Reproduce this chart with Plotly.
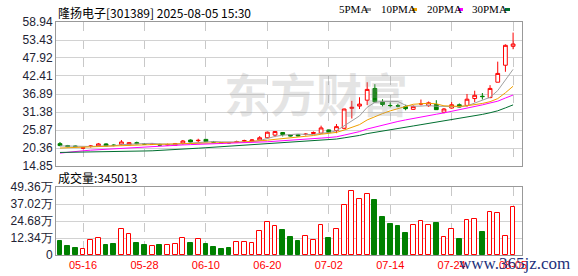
import plotly.graph_objects as go

# ---------------- data ----------------
dates = ["05-13", "05-14", "05-15", "05-16", "05-19", "05-20", "05-21", "05-22", "05-23", "05-26",
         "05-27", "05-28", "05-29", "05-30", "06-03", "06-04", "06-05", "06-06", "06-09", "06-10",
         "06-11", "06-12", "06-13", "06-16", "06-17", "06-18", "06-19", "06-20", "06-23", "06-24",
         "06-25", "06-26", "06-27", "06-30", "07-01", "07-02", "07-03", "07-04", "07-07", "07-08",
         "07-09", "07-10", "07-11", "07-14", "07-15", "07-16", "07-17", "07-18", "07-21", "07-22",
         "07-23", "07-24", "07-25", "07-28", "07-29", "07-30", "07-31", "08-01", "08-04", "08-05"]

open_ = [21.7, 21.1, 20.95, 20.3, 20.85, 21.0, 21.6, 21.25, 21.4, 21.3,
         22.0, 21.65, 21.45, 21.45, 21.3, 21.2, 21.8, 22.8, 22.6, 23.0,
         22.3, 22.0, 22.05, 22.2, 22.5, 22.5, 22.8, 23.5, 24.3, 25.1,
         24.4, 24.4, 24.5, 24.8, 24.9, 25.9, 25.7, 26.4, 32.5, 33.2,
         35.0, 38.6, 34.5, 33.4, 33.3, 33.0, 32.2, 33.85, 33.3, 33.7,
         31.3, 32.6, 33.6, 33.4, 35.5, 36.2, 35.8, 40.5, 45.7, 51.5]
high = [22.2, 21.3, 21.1, 20.5, 21.2, 21.9, 21.8, 21.5, 22.8, 22.2,
        22.3, 21.9, 21.8, 21.7, 21.7, 21.9, 22.8, 23.0, 23.2, 23.1,
        22.4, 22.1, 22.1, 22.6, 22.9, 23.1, 24.0, 25.3, 25.5, 25.2,
        24.5, 24.6, 24.9, 25.4, 27.2, 26.0, 27.7, 32.4, 34.8, 35.9,
        40.5, 39.9, 35.3, 34.3, 33.9, 33.6, 33.4, 35.2, 34.6, 35.0,
        32.6, 34.4, 34.0, 36.9, 37.9, 37.2, 39.6, 46.8, 52.1, 55.7]
low = [20.9, 20.6, 20.7, 20.0, 20.5, 20.9, 20.9, 20.9, 21.2, 21.2,
       21.5, 21.4, 21.3, 21.1, 21.1, 21.1, 21.4, 22.1, 22.1, 22.2,
       22.0, 21.8, 21.7, 21.9, 22.2, 22.4, 22.7, 23.4, 23.7, 23.9,
       23.9, 23.9, 24.2, 24.6, 24.7, 25.0, 24.9, 26.1, 29.4, 32.3,
       33.5, 34.2, 33.1, 32.8, 32.8, 31.9, 32.0, 33.4, 33.0, 32.0,
       31.0, 32.4, 32.8, 33.0, 34.4, 35.2, 35.6, 40.5, 43.7, 50.6]
close = [21.1, 20.8, 20.85, 20.45, 20.95, 21.6, 21.0, 21.15, 22.2, 22.0,
         21.7, 21.55, 21.55, 21.25, 21.4, 21.7, 22.5, 22.2, 22.7, 22.3,
         22.15, 21.9, 21.95, 22.3, 22.6, 22.8, 23.5, 25.2, 25.4, 24.5,
         24.05, 24.1, 24.6, 25.1, 26.5, 25.1, 26.9, 32.3, 32.8, 33.8,
         38.3, 34.5, 33.7, 33.35, 33.2, 32.4, 33.1, 33.9, 34.2, 32.1,
         32.3, 33.6, 32.9, 35.3, 36.5, 36.1, 38.6, 43.2, 51.8, 52.2]

ma5 = [21.0, 20.95, 20.9, 20.8, 20.83, 20.93, 20.97, 21.03, 21.38, 21.59,
       21.61, 21.72, 21.79, 21.6, 21.48, 21.48, 21.67, 21.81, 22.1, 22.28,
       22.37, 22.25, 22.2, 22.12, 22.18, 22.31, 22.63, 23.28, 23.9, 24.28,
       24.53, 24.65, 24.53, 24.47, 24.87, 25.08, 25.64, 27.18, 28.72, 30.18,
       32.82, 34.34, 34.62, 34.73, 34.61, 33.43, 33.15, 33.19, 33.36, 33.14,
       33.12, 33.22, 33.02, 33.24, 34.12, 34.88, 35.88, 37.94, 41.3, 44.44]
ma10 = [20.35, 20.4, 20.5, 20.55, 20.65, 20.8, 20.9, 20.95, 21.1, 21.21,
        21.27, 21.35, 21.41, 21.49, 21.54, 21.55, 21.7, 21.8, 21.85, 21.88,
        21.93, 21.96, 22.01, 22.11, 22.23, 22.34, 22.44, 22.74, 23.01, 23.23,
        23.42, 23.64, 23.9, 24.18, 24.57, 24.8, 25.14, 25.85, 26.59, 27.52,
        28.95, 29.99, 30.9, 31.73, 32.4, 33.13, 33.75, 33.91, 34.05, 33.88,
        33.28, 33.19, 33.11, 33.3, 33.63, 34.0, 34.55, 35.48, 37.27, 39.28]
ma20 = [18.8, 19.1, 19.4, 19.5, 19.7, 19.85, 20.0, 20.15, 20.3, 20.45,
        20.6, 20.75, 20.9, 21.0, 21.1, 21.2, 21.3, 21.4, 21.48, 21.55,
        21.6, 21.65, 21.71, 21.8, 21.88, 21.94, 22.07, 22.27, 22.43, 22.56,
        22.67, 22.8, 22.95, 23.15, 23.4, 23.57, 23.79, 24.3, 24.8, 25.38,
        26.18, 26.81, 27.4, 27.95, 28.48, 28.96, 29.44, 29.88, 30.32, 30.7,
        31.11, 31.59, 32.0, 32.51, 33.01, 33.56, 34.15, 34.69, 35.66, 36.58]
ma30 = [19.0, 19.02, 19.05, 19.08, 19.1, 19.15, 19.2, 19.25, 19.3, 19.35,
        19.4, 19.45, 19.5, 19.6, 19.7, 19.8, 19.95, 20.1, 20.3, 20.45,
        20.6, 20.75, 20.9, 21.05, 21.2, 21.35, 21.5, 21.7, 21.9, 22.11,
        22.21, 22.32, 22.44, 22.6, 22.78, 22.9, 23.1, 23.47, 23.82, 24.21,
        24.77, 25.2, 25.61, 26.01, 26.4, 26.76, 27.11, 27.5, 27.89, 28.21,
        28.55, 28.94, 29.31, 29.74, 30.2, 30.65, 31.15, 31.75, 32.64, 33.56]

volume_wan = [10.2, 6.5, 5.1, 4.1, 10.6, 12.1, 7.3, 8.0, 18.6, 15.0,
              8.7, 7.3, 6.3, 7.3, 7.0, 7.8, 12.3, 8.7, 11.4, 8.0,
              5.8, 4.4, 5.1, 9.2, 9.2, 8.5, 17.2, 23.7, 20.8, 18.1,
              13.1, 10.2, 13.8, 10.6, 21.5, 12.3, 18.9, 36.3, 46.5, 40.7,
              44.0, 40.2, 27.6, 22.5, 21.1, 16.0, 21.5, 24.4, 21.5, 23.2,
              13.1, 18.9, 11.6, 25.2, 26.1, 16.7, 31.0, 30.3, 13.8, 34.5]

price_ticks = [14.85, 20.36, 25.87, 31.38, 36.89, 42.41, 47.92, 53.43, 58.94]
price_tick_text = ["14.85", "20.36", "25.87", "31.38", "36.89", "42.41", "47.92", "53.43", "58.94"]
vol_ticks = [0, 12.34, 24.68, 37.02, 49.36]
vol_tick_text = ["0", "12.34万", "24.68万", "37.02万", "49.36万"]
date_ticks = ["05-16", "05-28", "06-10", "06-20", "07-02", "07-14", "07-24", "08-05"]

title_text = "隆扬电子[301389] 2025-08-05 15:30"
vol_title = "成交量:345013"
ma_names = ["5PMA", "10PMA", "20PMA", "30PMA"]
ma_colors = ["#a0a0a0", "#f0a000", "#ff00ff", "#006f30"]

# ---------------- styling ----------------
W, H = 578, 276
L, R, T, B = 56, 522, 22, 255
RED = "#ff0000"
GREEN = "#008000"


def px_x(p):
    return (p - L) / (R - L)


def px_y(p):
    return (B - p) / (B - T)


xs = list(range(len(dates)))
tick_pos = [dates.index(d) for d in date_ticks]

up = [c >= o for o, c in zip(open_, close)]
bar_fill = ["#ffffff" if u else GREEN for u in up]
bar_line = [RED if u else GREEN for u in up]

fig = go.Figure()

for name, vals, col in zip(ma_names, [ma5, ma10, ma20, ma30], ma_colors):
    fig.add_trace(go.Scatter(x=xs, y=vals, mode="lines", name=name,
                             line=dict(color=col, width=1), xaxis="x", yaxis="y",
                             hoverinfo="skip"))

fig.add_trace(go.Candlestick(
    x=xs, open=open_, high=high, low=low, close=close,
    increasing=dict(line=dict(color=RED, width=1), fillcolor="#ffffff"),
    decreasing=dict(line=dict(color=GREEN, width=1), fillcolor=GREEN),
    whiskerwidth=0, xaxis="x", yaxis="y", name="K"))

fig.add_trace(go.Bar(x=xs, y=volume_wan, width=0.62,
                     marker=dict(color=bar_fill, line=dict(color=bar_line, width=1)),
                     xaxis="x2", yaxis="y2", name="vol"))

axis_common = dict(range=[-0.52, 60.16], tickvals=tick_pos, ticktext=date_ticks,
                   showgrid=True, gridcolor="#c8c8c8", griddash="dash", gridwidth=1,
                   showline=True, linecolor="#999999", linewidth=1, mirror=True,
                   ticks="", zeroline=False, fixedrange=True, automargin=False)

tick_font = dict(family="Liberation Sans, Arial", size=12, color="#222233")

fig.update_layout(
    template="none",
    width=W, height=H,
    margin=dict(l=L, r=W - R, t=T, b=H - B, pad=0),
    paper_bgcolor="#ffffff", plot_bgcolor="#ffffff",
    showlegend=False,
    bargap=0, boxgap=0.3,
    xaxis=dict(domain=[0, 1], anchor="y", showticklabels=False,
               rangeslider=dict(visible=False), **axis_common),
    xaxis2=dict(domain=[0, 1], anchor="y2", showticklabels=True,
                tickfont=dict(family="Liberation Sans, Arial", size=11, color=RED),
                **axis_common),
    yaxis=dict(domain=[px_y(166), 1], range=[14.85, 58.94], tickvals=price_ticks,
               ticktext=price_tick_text, showgrid=True, gridcolor="#d2d2d2",
               showline=True, linecolor="#999999", mirror=True, ticks="",
               zeroline=False, tickfont=tick_font, fixedrange=True, automargin=False),
    yaxis2=dict(domain=[0, px_y(187)], range=[0, 49.36], tickvals=vol_ticks,
                ticktext=vol_tick_text, showgrid=True, gridcolor="#d2d2d2",
                showline=True, linecolor="#999999", mirror=True, ticks="",
                zeroline=False, tickfont=tick_font, fixedrange=True, automargin=False),
)

ann = []
ann.append(dict(text=title_text, x=px_x(56), y=px_y(12), xref="paper", yref="paper",
                xanchor="left", yanchor="middle", showarrow=False,
                font=dict(family="Noto Sans CJK SC", size=12, color="#000000")))
ann.append(dict(text=vol_title, x=px_x(56), y=px_y(177), xref="paper", yref="paper",
                xanchor="left", yanchor="middle", showarrow=False,
                font=dict(family="Noto Sans CJK SC", size=12, color="#000000")))
# watermark (translucent so the candles show through)
ann.append(dict(text="东方财富", x=px_x(316), y=px_y(92), xref="paper", yref="paper",
                xanchor="center", yanchor="middle", showarrow=False,
                font=dict(family="Noto Sans CJK SC", size=46, color="rgba(150,150,150,0.25)",
                          weight="bold")))
# legend pieces
leg_x = [337, 379, 425, 470]
sq_x = [366, 412, 458, 505]
shapes = []
for name, col, lx, sx in zip(ma_names, ma_colors, leg_x, sq_x):
    ann.append(dict(text=name, x=px_x(lx), y=px_y(9), xref="paper", yref="paper",
                    xanchor="left", yanchor="middle", showarrow=False,
                    font=dict(family="Liberation Serif", size=11, color="#000000")))
    shapes.append(dict(type="rect", xref="paper", yref="paper",
                       x0=px_x(sx), x1=px_x(sx + 5), y0=px_y(11), y1=px_y(8),
                       fillcolor=col, line=dict(width=0)))
# site watermark
ann.append(dict(text="www.365jz.com", x=px_x(514), y=px_y(263), xref="paper", yref="paper",
                xanchor="center", yanchor="middle", showarrow=False,
                font=dict(family="Liberation Serif", size=17, color="#22307a")))

fig.update_layout(annotations=ann, shapes=shapes)

fig.write_html("out.html", config={"displayModeBar": False},
               post_script="document.body.style.margin='0px';")
